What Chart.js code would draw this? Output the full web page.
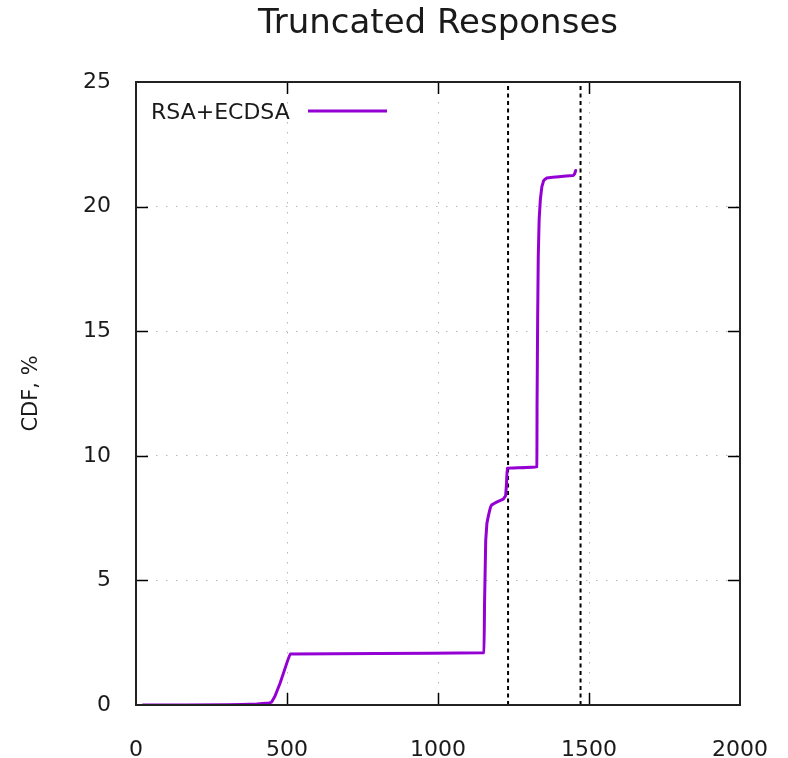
<!DOCTYPE html>
<html lang="en">
<head>
    <meta charset="UTF-8">
    <title>Truncated Responses</title>
    <script src="https://cdn.jsdelivr.net/npm/chart.js"></script>
    <style>
        body {
            margin: 0;
            background: #fff;
        }
        .chart-box {
            width: 788px;
            height: 758px;
        }
    </style>
</head>
<body>

<div class="chart-box">
    <canvas id="cdfChart" width="788" height="758"></canvas>
</div>

<script>
    // Response size (bytes) and CDF (%) for the RSA+ECDSA curve
    const sizes = [23, 300, 400, 440, 449, 460, 477, 499, 510, 800, 1152,
                   1154, 1158, 1162, 1167, 1173, 1178, 1194, 1216, 1224, 1227, 1229,
                   1327, 1328, 1330, 1332, 1335, 1339, 1344, 1350, 1360, 1400,
                   1448, 1452, 1456];
    const cdf = [0, 0.01, 0.04, 0.08, 0.12, 0.35, 0.87, 1.67, 2.05, 2.07, 2.1,
                 4.0, 6.6, 7.3, 7.6, 7.9, 8.03, 8.14, 8.26, 8.4, 8.9, 9.5,
                 9.55, 12.0, 15.5, 18.0, 19.5, 20.3, 20.8, 21.05, 21.15, 21.2,
                 21.25, 21.3, 21.45];
    const seriesName = 'RSA+ECDSA';

    // reference sizes marked by the dashed verticals
    const limits = [1232, 1472];

    const xTicks = [0, 500, 1000, 1500, 2000];
    const yTicks = [0, 5, 10, 15, 20, 25];

    const FONT = "'DejaVu Sans', sans-serif";
    const TEXT = '#1a1a1a';

    const curve = sizes.map((s, i) => ({ x: s, y: cdf[i] }));

    const limitSets = limits.map(v => ({
        label: 'limit ' + v,
        data: [{ x: v, y: 0 }, { x: v, y: 25 }],
        borderColor: '#000',
        borderWidth: 2,
        borderDash: [4, 3.5],
        pointRadius: 0,
        fill: false
    }));

    // gnuplot-like frame, inward ticks, title, y label and key
    const framePlugin = {
        id: 'frame',
        afterDraw(chart) {
            const { ctx, chartArea: a, scales } = chart;
            ctx.save();

            ctx.strokeStyle = '#000';
            ctx.lineWidth = 1.5;
            const tl = 12;
            ctx.beginPath();
            xTicks.slice(1, -1).forEach(v => {
                const px = Math.round(scales.x.getPixelForValue(v)) + 0.5;
                ctx.moveTo(px, a.bottom); ctx.lineTo(px, a.bottom - tl);
                ctx.moveTo(px, a.top); ctx.lineTo(px, a.top + tl);
            });
            yTicks.slice(1, -1).forEach(v => {
                const py = Math.round(scales.y.getPixelForValue(v)) + 0.5;
                ctx.moveTo(a.left, py); ctx.lineTo(a.left + tl, py);
                ctx.moveTo(a.right, py); ctx.lineTo(a.right - tl, py);
            });
            ctx.stroke();

            ctx.strokeStyle = '#222';
            ctx.lineWidth = 2;
            ctx.strokeRect(a.left, a.top, a.right - a.left, a.bottom - a.top);

            // title
            ctx.fillStyle = TEXT;
            ctx.font = '34px ' + FONT;
            ctx.textAlign = 'center';
            ctx.textBaseline = 'alphabetic';
            ctx.fillText('Truncated Responses', (a.left + a.right) / 2, 33);

            // y axis label
            ctx.save();
            ctx.translate(37, (a.top + a.bottom) / 2);
            ctx.rotate(-Math.PI / 2);
            ctx.font = '21px ' + FONT;
            ctx.fillText('CDF, %', 0, 0);
            ctx.restore();

            // key: text first, then line sample
            ctx.font = '22px ' + FONT;
            ctx.textAlign = 'left';
            ctx.fillText(seriesName, 151, 119);
            ctx.strokeStyle = '#9400d3';
            ctx.lineWidth = 3;
            ctx.beginPath();
            ctx.moveTo(308, 111);
            ctx.lineTo(387, 111);
            ctx.stroke();

            ctx.restore();
        }
    };

    new Chart(document.getElementById('cdfChart'), {
        type: 'line',
        data: {
            datasets: [{
                label: seriesName,
                data: curve,
                borderColor: '#9400d3',
                borderWidth: 3,
                borderJoinStyle: 'round',
                borderCapStyle: 'round',
                pointRadius: 0,
                // small tension keeps the regular path (no per-pixel merging on the steep parts)
                tension: 0.01,
                fill: false
            }, ...limitSets]
        },
        options: {
            responsive: false,
            animation: false,
            layout: {
                padding: { top: 82, right: 48, bottom: 0, left: 0 }
            },
            plugins: {
                legend: { display: false },
                title: { display: false },
                tooltip: { enabled: false }
            },
            scales: {
                x: {
                    type: 'linear',
                    min: 0,
                    max: 2000,
                    afterBuildTicks: scale => {
                        scale.ticks = xTicks.map(v => ({ value: v }));
                    },
                    afterFit: scale => {
                        scale.height = 53;
                        scale.paddingLeft = 0;
                        scale.paddingRight = 0;
                    },
                    grid: {
                        color: '#b8b8b8',
                        lineWidth: 1,
                        drawTicks: false
                    },
                    border: { display: false, dash: [1.5, 8.5] },
                    ticks: {
                        color: TEXT,
                        padding: 32,
                        maxRotation: 0,
                        font: { family: FONT, size: 22 },
                        callback: v => String(v)
                    }
                },
                y: {
                    min: 0,
                    max: 25,
                    afterBuildTicks: scale => {
                        scale.ticks = yTicks.map(v => ({ value: v }));
                    },
                    afterFit: scale => {
                        scale.width = 136;
                        scale.paddingTop = 0;
                        scale.paddingBottom = 0;
                    },
                    grid: {
                        color: '#b8b8b8',
                        lineWidth: 1,
                        drawTicks: false
                    },
                    border: { display: false, dash: [1.5, 8.5] },
                    ticks: {
                        color: TEXT,
                        padding: 25,
                        font: { family: FONT, size: 22 },
                        callback: v => String(v)
                    }
                }
            }
        },
        plugins: [framePlugin]
    });
</script>

</body>
</html>
